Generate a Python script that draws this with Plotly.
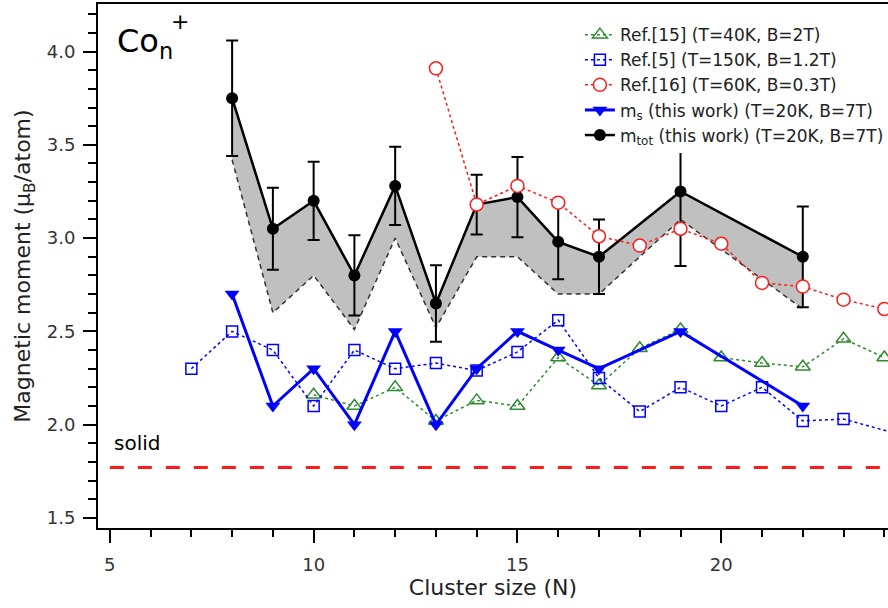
import plotly.graph_objects as go

# ---- data (moments in μB/atom) ----
n_this = [8, 9, 10, 11, 12, 13, 14, 15, 16, 17, 19, 22]
m_tot = [3.75, 3.05, 3.20, 2.80, 3.28, 2.65, 3.18, 3.22, 2.98, 2.90, 3.25, 2.90]
m_tot_err = [0.31, 0.22, 0.21, 0.215, 0.21, 0.205, 0.16, 0.215, 0.20, 0.20, 0.40, 0.27]
m_tot_low = [3.42, 2.60, 2.80, 2.51, 3.00, 2.52, 2.90, 2.90, 2.70, 2.70, 3.10, 2.62]
m_s = [2.70, 2.10, 2.30, 2.00, 2.50, 2.00, 2.30, 2.50, 2.40, 2.30, 2.50, 2.10]

n_ref15 = [10, 11, 12, 13, 14, 15, 16, 17, 18, 19, 20, 21, 22, 23, 24]
m_ref15 = [2.16, 2.10, 2.20, 2.02, 2.13, 2.10, 2.36, 2.21, 2.41, 2.51, 2.36, 2.33, 2.31, 2.46, 2.36]

n_ref5 = [7, 8, 9, 10, 11, 12, 13, 14, 15, 16, 17, 18, 19, 20, 21, 22, 23, 25]
m_ref5 = [2.30, 2.50, 2.40, 2.10, 2.40, 2.30, 2.33, 2.29, 2.39, 2.56, 2.25, 2.07, 2.20, 2.10, 2.20, 2.02, 2.03, 1.91]

n_ref16 = [13, 14, 15, 16, 17, 18, 19, 20, 21, 22, 23, 24]
m_ref16 = [3.91, 3.18, 3.28, 3.19, 3.01, 2.96, 3.05, 2.97, 2.76, 2.74, 2.67, 2.62]

m_solid = 1.77
solid_span = [5, 25]

x_ticks = [5, 10, 15, 20]
x_minor = list(range(5, 25))
y_ticks = [1.5, 2.0, 2.5, 3.0, 3.5, 4.0]
y_minor = [round(1.5 + 0.1 * i, 1) for i in range(28)]

FONT = "DejaVu Sans"
GREEN = "#2e8b2e"
BLUE = "#0000ff"
RED = "#ff1a1a"

fig = go.Figure()

# lower bound of the total moment (dashed)
fig.add_trace(go.Scatter(
    x=n_this, y=m_tot_low, mode="lines",
    line=dict(color="#333333", width=1.5, dash="5px,4px"),
    showlegend=False, hoverinfo="skip"))

# grey band between the lower bound and m_tot
fig.add_trace(go.Scatter(
    x=n_this, y=m_tot, mode="lines",
    fill="tonexty", fillcolor="#c0c0c0",
    line=dict(width=0, color="rgba(0,0,0,0)"),
    showlegend=False, hoverinfo="skip"))

fig.add_trace(go.Scatter(
    x=n_this, y=m_tot, mode="lines+markers",
    name="m<sub>tot</sub> (this work) (T=20K, B=7T)",
    line=dict(color="black", width=2.5),
    marker=dict(symbol="circle", size=12, color="black"),
    error_y=dict(type="data", array=m_tot_err, color="black", thickness=2, width=6),
    legendrank=5))

# bulk cobalt value
fig.add_trace(go.Scatter(
    x=solid_span, y=[m_solid, m_solid], mode="lines",
    line=dict(color=RED, width=3, dash="14px,14px"),
    showlegend=False, hoverinfo="skip"))

fig.add_trace(go.Scatter(
    x=n_ref15, y=m_ref15, mode="lines+markers",
    name="Ref.[15] (T=40K, B=2T)",
    line=dict(color=GREEN, width=1.5, dash="dot"),
    marker=dict(symbol="triangle-up-open", size=13, color=GREEN, line=dict(width=1.5)),
    legendrank=1))

fig.add_trace(go.Scatter(
    x=n_ref5, y=m_ref5, mode="lines+markers",
    name="Ref.[5] (T=150K, B=1.2T)",
    line=dict(color=BLUE, width=1.5, dash="dot"),
    marker=dict(symbol="square-open", size=11, color=BLUE, line=dict(width=1.5)),
    legendrank=2))

fig.add_trace(go.Scatter(
    x=n_this, y=m_s, mode="lines+markers",
    name="m<sub>s</sub> (this work) (T=20K, B=7T)",
    line=dict(color=BLUE, width=3),
    marker=dict(symbol="triangle-down", size=13, color=BLUE),
    legendrank=4))

fig.add_trace(go.Scatter(
    x=n_ref16, y=m_ref16, mode="lines+markers",
    name="Ref.[16] (T=60K, B=0.3T)",
    line=dict(color=RED, width=1.5, dash="dot"),
    marker=dict(symbol="circle", size=13, color="white", line=dict(color=RED, width=1.5)),
    legendrank=3))

fig.add_annotation(text="Co<sub>n</sub>", xref="paper", yref="paper",
                   x=0.022, y=0.925, xanchor="left", yanchor="middle",
                   showarrow=False, font=dict(family=FONT, size=32, color="black"))
fig.add_annotation(text="+", xref="paper", yref="paper",
                   x=0.104, y=0.966, xanchor="center", yanchor="middle",
                   showarrow=False, font=dict(family=FONT, size=22, color="black"))
fig.add_annotation(text="solid", xref="paper", yref="y",
                   x=0.018, y=1.90, xanchor="left", yanchor="middle",
                   showarrow=False, font=dict(family=FONT, size=20, color="black"))

axis_common = dict(
    showgrid=False, zeroline=False, showline=True, linecolor="black", linewidth=2,
    ticks="outside", ticklen=13, tickwidth=2, tickcolor="black",
    tickfont=dict(family=FONT, size=18, color="#333333"),
)

fig.update_xaxes(
    **axis_common, range=[4.71, 24.09], tickmode="array", tickvals=x_ticks,
    mirror=True, ticklabelstandoff=6,
    minor=dict(tickmode="array", tickvals=x_minor, ticks="outside", ticklen=7,
               tickwidth=2, tickcolor="black"),
    title=dict(text="Cluster size (N)", font=dict(family=FONT, size=22, color="#222222"),
               standoff=6))
fig.update_yaxes(
    **axis_common, range=[1.446, 4.255], tickmode="array", tickvals=y_ticks,
    tickformat=".1f", ticklabelstandoff=4,
    minor=dict(tickmode="array", tickvals=y_minor, ticks="outside", ticklen=8,
               tickwidth=2, tickcolor="black"),
    title=dict(text="Magnetic moment (μ<sub>B</sub>/atom)",
               font=dict(family=FONT, size=22, color="#222222"), standoff=10))

fig.update_layout(
    width=888, height=608,
    margin=dict(l=98, r=0, t=4, b=80, autoexpand=False),
    paper_bgcolor="white", plot_bgcolor="white",
    legend=dict(x=0.61, y=0.975, xanchor="left", yanchor="top",
                traceorder="normal",
                bgcolor="white", borderwidth=0,
                font=dict(family=FONT, size=17, color="#222222"),
                itemwidth=30),
)

fig.write_html("out.html")
